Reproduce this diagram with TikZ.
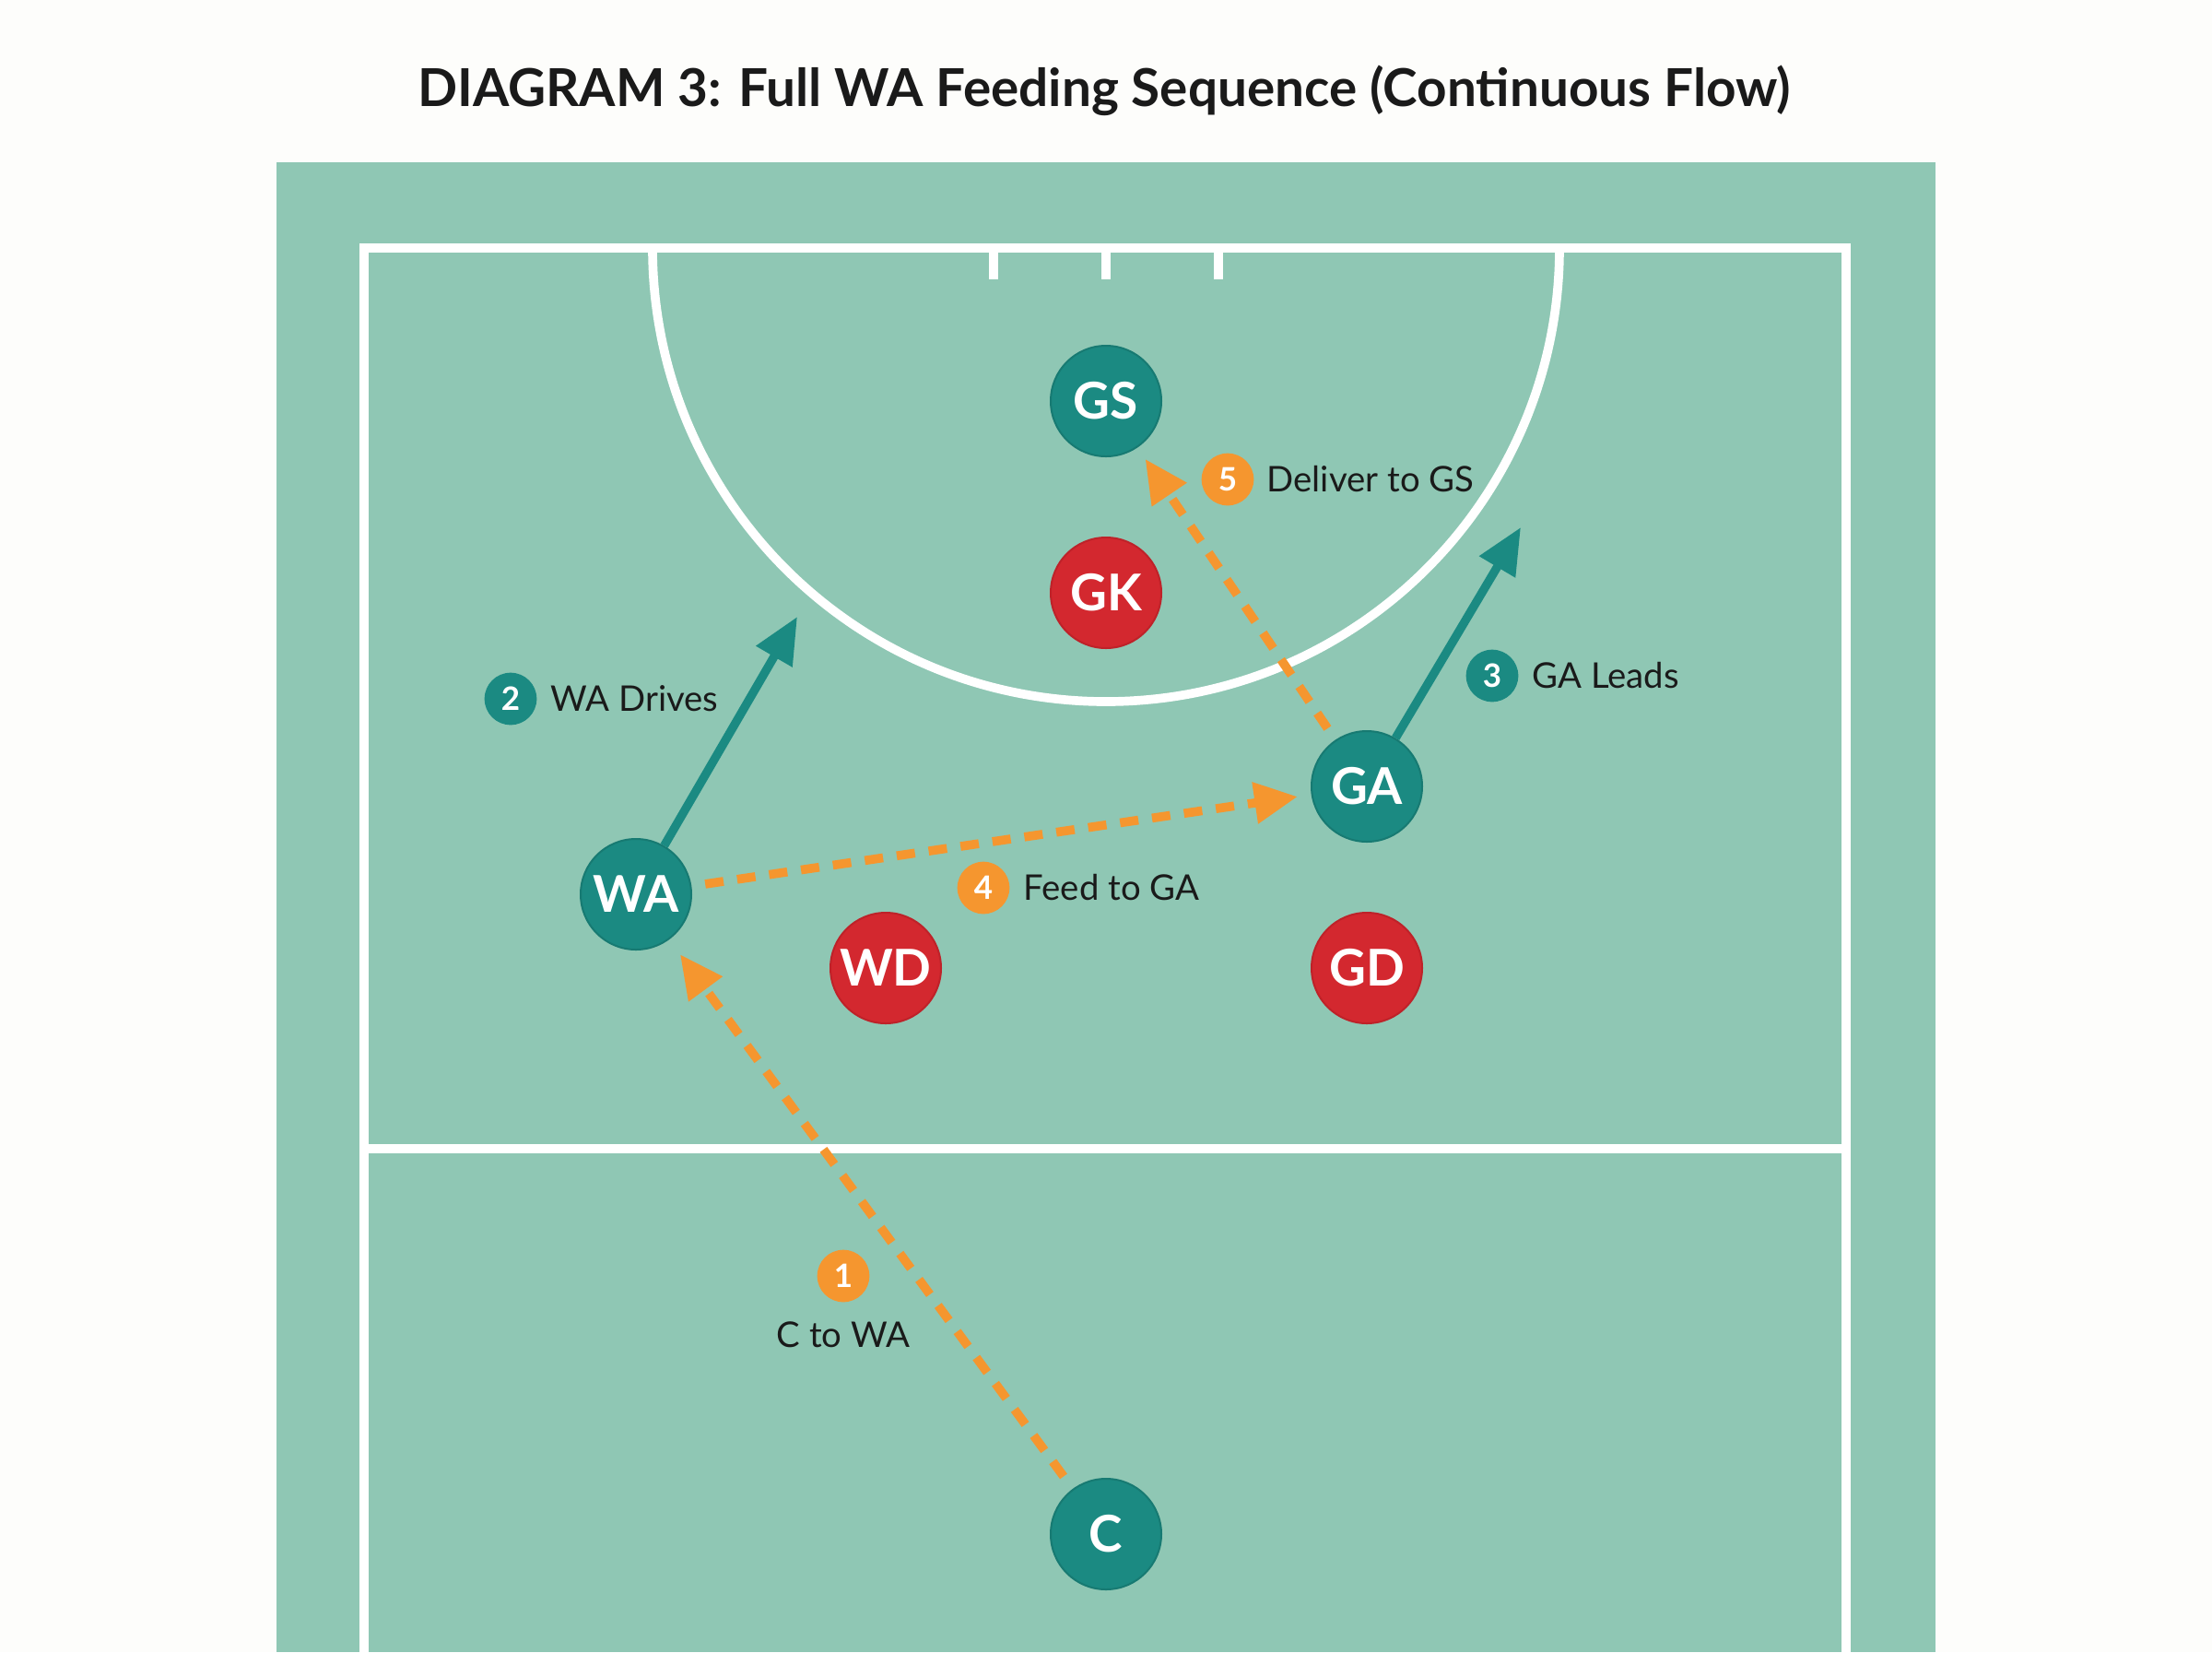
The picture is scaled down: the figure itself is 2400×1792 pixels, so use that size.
\documentclass[tikz,border=0pt]{standalone}
\usepackage{fontspec}
\setmainfont{Lato}
\usetikzlibrary{arrows.meta}
\definecolor{court}{HTML}{8FC7B4}
\definecolor{teamteal}{HTML}{1B8A82}
\definecolor{tealedge}{HTML}{177A72}
\definecolor{teamred}{HTML}{D3282F}
\definecolor{rededge}{HTML}{BE2229}
\definecolor{passorange}{HTML}{F5962F}
\definecolor{inktext}{HTML}{1A1A1A}
\definecolor{paper}{HTML}{FDFDFB}
\tikzset{
  courtline/.style={white, line width=2.9pt},
  attacker/.style={circle, minimum size=36pt, inner sep=0pt, fill=teamteal, draw=tealedge, line width=0.6pt, text=white, font=\fontsize{16.5}{18}\selectfont\bfseries},
  defender/.style={circle, minimum size=36pt, inner sep=0pt, fill=teamred, draw=rededge, line width=0.6pt, text=white, font=\fontsize{16.5}{18}\selectfont\bfseries},
  badge/.style={circle, minimum size=17pt, inner sep=0pt, text=white, font=\fontsize{10.5}{12}\selectfont\bfseries},
  obadge/.style={badge, fill=passorange},
  tbadge/.style={badge, fill=teamteal},
  steplabel/.style={anchor=west, inner sep=0pt, text=inktext, font=\fontsize{11.5}{13}\selectfont},
  pass/.style={passorange, line width=2.9pt, dash pattern=on 6pt off 4.5pt, -{Triangle[length=14pt,width=13pt]}},
  runline/.style={teamteal, line width=2.8pt, -{Triangle[length=15pt,width=13pt]}}
}
\begin{document}
\begin{tikzpicture}[x=0.3pt,y=-0.3pt]
\useasboundingbox (0,0) rectangle (2400,1792);
\fill[paper] (0,0) rectangle (2400,1792);
\node[font=\fontsize{17}{20}\selectfont\bfseries, text=inktext] (title) at (1198,98) {DIAGRAM 3: Full WA Feeding Sequence (Continuous Flow)};
% court
\fill[court] (300,176) rectangle (2100,1792);
\draw[courtline] (395,1792) -- (395,269) -- (2003,269) -- (2003,1792);
\draw[courtline] (395,1246) -- (2003,1246);
\draw[courtline] (708,269) arc[start angle=180, end angle=0, radius=492];
\draw[courtline] (1078,269) -- (1078,303);
\draw[courtline] (1200,269) -- (1200,303);
\draw[courtline] (1322,269) -- (1322,303);
% players
\node[attacker] (GS) at (1200,435) {GS};
\node[defender] (GK) at (1200,643) {GK};
\node[attacker] (GA) at (1483,853) {GA};
\node[attacker] (WA) at (690,970) {WA};
\node[defender] (WD) at (961,1050) {WD};
\node[defender] (GD) at (1483,1050) {GD};
\node[attacker] (C) at (1200,1664) {C};
% free ends of runs
\coordinate (e2) at (865,669);
\coordinate (e3) at (1650,572);
% runs
\draw[runline] (WA) -- (e2);
\draw[runline] (GA) -- (e3);
% passes
\draw[pass, shorten <=5pt, shorten >=6pt] (C) -- (WA);
\draw[pass, shorten <=4.5pt, shorten >=4.5pt] (WA) -- (GA);
\draw[pass, shorten <=4.5pt, shorten >=4.5pt] (GA) -- (GS);
% labels
\node[obadge] (b1) at (915,1384) {1};
\node[text=inktext, font=\fontsize{11.5}{13}\selectfont] (l1) at (915,1448) {C to WA};
\node[tbadge] (b2) at (554,758) {2};
\node[steplabel] (l2) at (597,758) {WA Drives};
\node[tbadge] (b3) at (1619,733) {3};
\node[steplabel] (l3) at (1662,733) {GA Leads};
\node[obadge] (b4) at (1067,963) {4};
\node[steplabel] (l4) at (1110,963) {Feed to GA};
\node[obadge] (b5) at (1332,520) {5};
\node[steplabel] (l5) at (1374,520) {Deliver to GS};
\end{tikzpicture}
\end{document}
